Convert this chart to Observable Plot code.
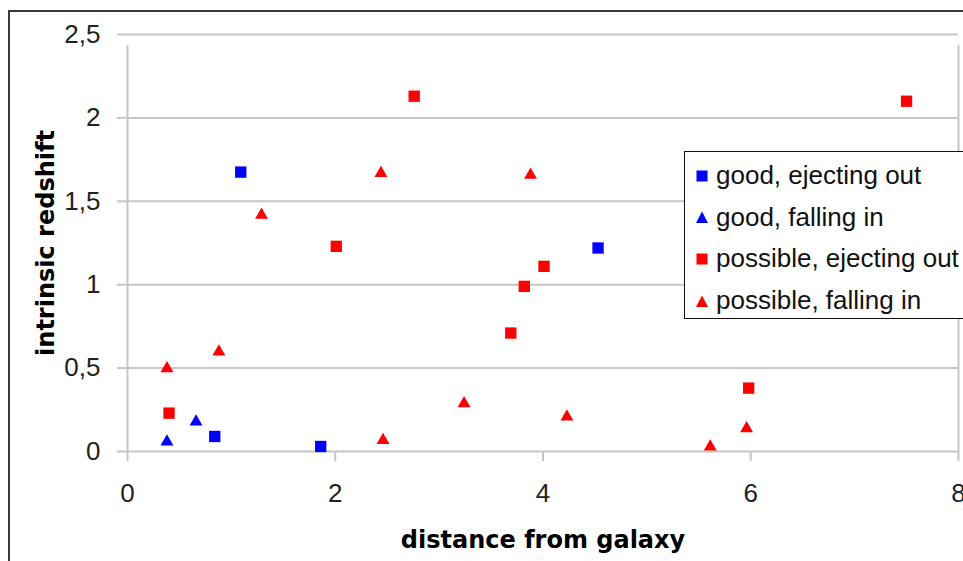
<!DOCTYPE html>
<html>
<head>
<meta charset="utf-8">
<script src="https://cdn.jsdelivr.net/npm/d3@7"></script>
<script src="https://cdn.jsdelivr.net/npm/@observablehq/plot@0.6"></script>
<style>
  html, body { margin: 0; padding: 0; background: #fff; overflow: hidden; }
  #wrap { position: relative; width: 963px; height: 561px; overflow: hidden; }
  #chart { position: absolute; left: 0; top: 0; }
  #border { position: absolute; left: 8px; top: 10px; width: 1200px; height: 1200px;
            border: 2px solid #3a3a3a; box-sizing: border-box; pointer-events: none; }
  #legend { position: absolute; left: 684px; top: 151px; width: 320px; height: 168px;
            border: 1.5px solid #111; background: #fff; box-sizing: border-box;
            padding-top: 3px; font-family: "Liberation Sans", Arial, sans-serif; font-size: 26px; color: #111; }
  .row { height: 41.6px; display: flex; align-items: center; }
  .row svg { margin-left: 10px; margin-right: 7px; }
</style>
</head>
<body>
<div id="wrap">
  <div id="chart"></div>
  <div id="border"></div>
  <div id="legend"></div>
</div>
<script>
// Distance from galaxy (x) and intrinsic redshift (y) for each group of objects
const goodEjectX = [1.09, 0.84, 1.86, 4.53];
const goodEjectY = [1.675, 0.09, 0.03, 1.22];
const goodFallX = [0.38, 0.66];
const goodFallY = [0.07, 0.19];
const possEjectX = [0.40, 2.76, 2.01, 4.01, 3.82, 3.69, 5.98, 7.50];
const possEjectY = [0.23, 2.13, 1.23, 1.11, 0.99, 0.71, 0.38, 2.10];
const possFallX = [0.38, 0.88, 1.29, 2.44, 3.88, 3.24, 2.46, 4.23, 5.61, 5.96];
const possFallY = [0.51, 0.61, 1.43, 1.68, 1.67, 0.30, 0.08, 0.22, 0.04, 0.15];

const seriesNames = ["good, ejecting out", "good, falling in", "possible, ejecting out", "possible, falling in"];
const seriesColors = ["#0000ff", "#0000ff", "#ff0000", "#ff0000"];
const seriesSymbols = ["square", "triangle", "square", "triangle"];

const xTicks = [0, 2, 4, 6, 8];
const yTicks = [0, 0.5, 1, 1.5, 2, 2.5];
const xTitle = "distance from galaxy";
const yTitle = "intrinsic redshift";

const seriesX = [goodEjectX, goodFallX, possEjectX, possFallX];
const seriesY = [goodEjectY, goodFallY, possEjectY, possFallY];
const rows = seriesNames.flatMap((name, i) =>
  seriesX[i].map((x, j) => ({series: name, x, y: seriesY[i][j], color: seriesColors[i], symbol: seriesSymbols[i]})));
const squares = rows.filter(d => d.symbol === "square");
const triangles = rows.filter(d => d.symbol === "triangle");

const grid = "#c6c6c6";
const comma = d => String(d).replace(".", ",");

const chart = Plot.plot({
  width: 963,
  height: 561,
  marginLeft: 127,
  marginRight: 5,
  marginTop: 34,
  marginBottom: 110,
  style: {fontFamily: "'Liberation Sans', Arial, sans-serif", background: "transparent"},
  x: {domain: [0, 8]},
  y: {domain: [0, 2.5]},
  marks: [
    Plot.gridY(yTicks, {stroke: grid, strokeOpacity: 1, strokeWidth: 2}),
    Plot.ruleX([0, 8], {y1: 0, y2: 2.5, insetBottom: -11, stroke: grid, strokeWidth: 2}),
    Plot.axisY({ticks: yTicks, tickSize: 10, tickPadding: 17, tickFormat: comma, stroke: grid, strokeWidth: 2,
                fill: "#222", fontSize: 26, label: null}),
    Plot.axisX({ticks: xTicks, tickSize: 10, tickPadding: 22, tickFormat: d => String(d), stroke: grid, strokeWidth: 2,
                fill: "#222", fontSize: 26, label: null}),
    Plot.text([xTitle], {frameAnchor: "bottom", dy: 96, lineAnchor: "bottom", text: d => d,
                fontFamily: "'DejaVu Sans', sans-serif", fontWeight: "bold", fontSize: 24, fill: "#000"}),
    Plot.text([yTitle], {frameAnchor: "left", dx: -74, rotate: -90, textAnchor: "middle", lineAnchor: "bottom", text: d => d,
                fontFamily: "'DejaVu Sans', sans-serif", fontWeight: "bold", fontSize: 24, fill: "#000"}),
    Plot.dot(squares, {x: "x", y: "y", symbol: "square", r: 6.4, fill: "color", stroke: "none"}),
    Plot.dot(triangles, {x: "x", y: "y", symbol: "triangle", r: 4.8, dy: 2, fill: "color", stroke: "none"})
  ]
});
document.getElementById("chart").appendChild(chart);

// Legend entries built from the series arrays
const legend = d3.select("#legend");
seriesNames.forEach((name, i) => {
  const row = legend.append("div").attr("class", "row");
  const svg = row.append("svg").attr("width", 14).attr("height", 14);
  if (seriesSymbols[i] === "square") {
    svg.append("rect").attr("x", 1.5).attr("y", 1.5).attr("width", 11).attr("height", 11).attr("fill", seriesColors[i]);
  } else {
    svg.append("path").attr("d", "M7,1.5L13,13L1,13Z").attr("fill", seriesColors[i]);
  }
  row.append("span").text(name);
});
</script>
</body>
</html>
